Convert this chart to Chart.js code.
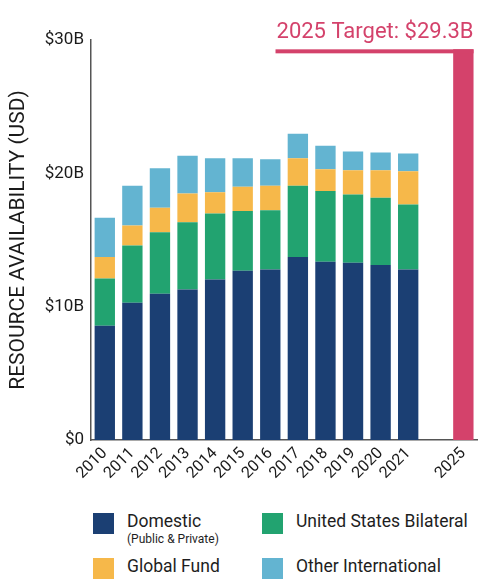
<!DOCTYPE html>
<html>
<head>
<meta charset="utf-8">
<script src="https://cdn.jsdelivr.net/npm/chart.js@4/dist/chart.umd.min.js"></script>
<style>
  body { margin: 0; background: #fff; font-family: Roboto, "Noto Sans", sans-serif; }
  #wrap { position: absolute; left: 0; top: 0; width: 481px; height: 492px; }
  .legend { position: absolute; color: #1e1e1e; font-size: 17.5px; }
  .sw { position: absolute; width: 21px; height: 21px; }
  .lab { position: absolute; white-space: nowrap; }
  .sub { font-size: 12px; display: block; margin-top: 1px; }
</style>
</head>
<body>
<div id="wrap"><canvas id="chart"></canvas></div>

<div class="legend" style="left:93px;top:513px;">
  <div class="sw" style="background:#1b3f73"></div>
  <div class="lab" style="left:34px;top:-2px;">Domestic<span class="sub">(Public &amp; Private)</span></div>
</div>
<div class="legend" style="left:262px;top:513px;">
  <div class="sw" style="background:#22a370"></div>
  <div class="lab" style="left:34px;top:-2px;">United States Bilateral</div>
</div>
<div class="legend" style="left:93px;top:558px;">
  <div class="sw" style="background:#f6b84a"></div>
  <div class="lab" style="left:34px;top:-2px;">Global Fund</div>
</div>
<div class="legend" style="left:262px;top:558px;">
  <div class="sw" style="background:#63b4d1"></div>
  <div class="lab" style="left:34px;top:-2px;">Other International</div>
</div>

<script>
// categories (blank slot before the target year)
const years = ["2010", "2011", "2012", "2013", "2014", "2015", "2016", "2017", "2018", "2019", "2020", "2021", "", "2025"];

// resource availability, billions USD
const domestic     = [8.57, 10.29, 10.97, 11.29, 12.04, 12.69, 12.79, 13.72, 13.37, 13.29, 13.12, 12.79, null, null];
const usBilateral  = [3.55, 4.30, 4.62, 5.05, 4.95, 4.48, 4.45, 5.34, 5.30, 5.13, 5.05, 4.88, null, null];
const globalFund   = [1.60, 1.50, 1.83, 2.15, 1.60, 1.82, 1.82, 2.08, 1.64, 1.82, 2.07, 2.49, null, null];
const otherIntl    = [2.95, 2.97, 2.97, 2.82, 2.55, 2.15, 2.00, 1.82, 1.75, 1.40, 1.32, 1.33, null, null];
const target2025   = [null, null, null, null, null, null, null, null, null, null, null, null, null, 29.3];

const yTicks = [0, 10, 20, 30];
const targetLabel = "2025 Target: $29.3B";
const pink = "#d4426b";

// target label + bracket line drawn from the target bar's position
const targetPlugin = {
  id: "targetNote",
  afterDatasetsDraw(chart) {
    const meta = chart.getDatasetMeta(4);
    const bar = meta.data[13];
    if (!bar) return;
    const ctx = chart.ctx;
    const right = bar.x + bar.width / 2;
    ctx.save();
    ctx.font = "22px Roboto";
    ctx.fillStyle = pink;
    ctx.textAlign = "right";
    ctx.textBaseline = "alphabetic";
    ctx.fillText(targetLabel, right, bar.y - 11);
    const w = ctx.measureText(targetLabel).width;
    ctx.fillRect(right - w - 1, bar.y, w + 1, 4);
    ctx.restore();
  }
};

const ds = (label, data, color) => ({
  label, data, backgroundColor: color, borderWidth: 0,
  barPercentage: 0.82, categoryPercentage: 0.9
});

new Chart(document.getElementById("chart"), {
  type: "bar",
  data: {
    labels: years,
    datasets: [
      ds("Domestic", domestic, "#1b3f73"),
      ds("United States Bilateral", usBilateral, "#22a370"),
      ds("Global Fund", globalFund, "#f6b84a"),
      ds("Other International", otherIntl, "#63b4d1"),
      ds("2025 Target", target2025, pink)
    ]
  },
  options: {
    responsive: true,
    maintainAspectRatio: false,
    animation: false,
    layout: { padding: { top: 40, right: 2, left: 0, bottom: 0 } },
    plugins: { legend: { display: false }, tooltip: { enabled: false } },
    scales: {
      x: {
        stacked: true,
        grid: { display: false, drawTicks: false },
        border: { display: true, color: "#555", width: 1.5 },
        ticks: {
          color: "#1a1a1a", font: { size: 16, family: "Roboto" },
          maxRotation: 45, minRotation: 45, autoSkip: false, padding: 4
        },
        afterFit(s) { s.height = 52; }
      },
      y: {
        stacked: true,
        min: 0, max: 30,
        afterBuildTicks(s) { s.ticks = yTicks.map(v => ({ value: v })); },
        grid: { display: false, drawTicks: false },
        border: { display: true, color: "#555", width: 1.5 },
        ticks: {
          color: "#1a1a1a", font: { size: 17, family: "Roboto" }, padding: 7,
          callback: v => v === 0 ? "$0" : "$" + v + "B"
        },
        title: {
          display: true, text: "RESOURCE AVAILABILITY (USD)",
          color: "#1a1a1a", font: { size: 21, family: "Roboto" }, padding: { top: 6, bottom: 0 }
        },
        afterFit(s) { s.width = 91; }
      }
    }
  },
  plugins: [targetPlugin]
});
</script>
</body>
</html>
